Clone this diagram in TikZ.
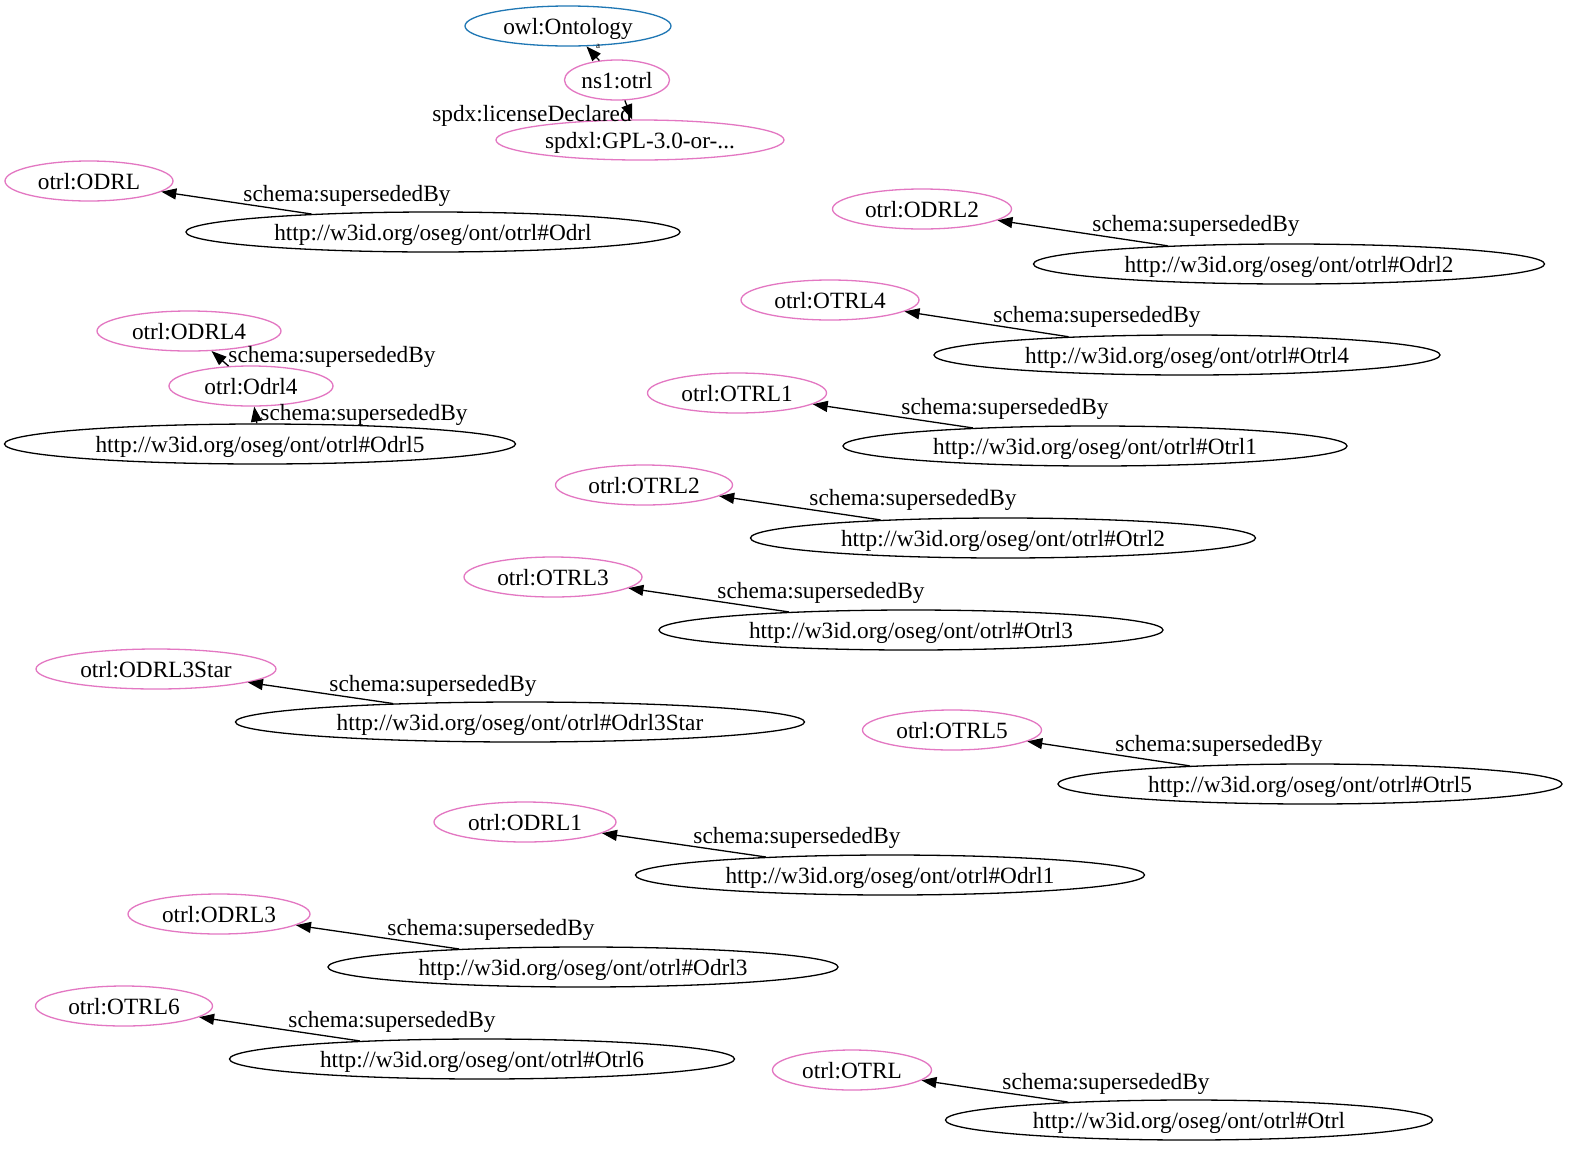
\documentclass[tikz,border=0pt]{standalone}
\usepackage{fontspec}
\setmainfont{Liberation Serif}
\usetikzlibrary{shapes.geometric,arrows.meta}
\definecolor{owlblue}{RGB}{31,119,180}
\definecolor{tpink}{RGB}{227,119,194}
\begin{document}
\begin{tikzpicture}[x=1pt,y=-1pt,
  every node/.style={font=\fontsize{23.3}{26}\selectfont,text height=17pt,text depth=0pt},
  ell/.style={ellipse,draw,line width=1.3pt,inner sep=0pt,minimum height=40pt},
  cls/.style={ell,draw=owlblue},
  res/.style={ell,draw=tpink},
  uri/.style={ell,draw=black},
  rel/.style={line width=1.3pt,-{Triangle[length=15pt,width=11pt]}},
  lab/.style={inner sep=0pt}]
\useasboundingbox (0,0) rectangle (1569,1149);
\fill[white] (0,0) rectangle (1569,1149);
% top group
\node[cls,minimum width=206pt] (onto) at (568,26) {owl:Ontology};
\node[res,minimum width=105pt] (ns1) at (617,80) {ns1:otrl};
\node[res,minimum width=288pt] (gpl) at (640,140) {spdxl:GPL-3.0-or-...};
\draw[rel] (ns1) -- (onto);
\node[lab,font=\fontsize{9}{10}\selectfont,text height=5pt] (la) at (598,46) {a};
\draw[rel] (ns1) -- (gpl);
\node[lab] (lspdx) at (532,113) {spdx:licenseDeclared};
% pairs
\node[res,minimum width=168pt] (p1) at (89,181) {otrl:ODRL};
\node[uri,minimum width=494pt] (u1) at (433,232) {http://w3id.org/oseg/ont/otrl\#Odrl};
\draw[rel] (u1) -- (p1);
\node[lab] (l1) at (347,193) {schema:supersededBy};

\node[res,minimum width=179pt] (p2) at (922,209) {otrl:ODRL2};
\node[uri,minimum width=511pt] (u2) at (1289,264) {http://w3id.org/oseg/ont/otrl\#Odrl2};
\draw[rel] (u2) -- (p2);
\node[lab] (l2) at (1196,223) {schema:supersededBy};

\node[res,minimum width=178pt] (p3) at (830,300) {otrl:OTRL4};
\node[uri,minimum width=506pt] (u3) at (1187,355) {http://w3id.org/oseg/ont/otrl\#Otrl4};
\draw[rel] (u3) -- (p3);
\node[lab] (l3) at (1097,314) {schema:supersededBy};

\node[res,minimum width=184pt] (p4) at (189,331) {otrl:ODRL4};
\node[res,minimum width=164pt] (p4b) at (251,386) {otrl:Odrl4};
\node[uri,minimum width=511pt] (u4) at (260,444) {http://w3id.org/oseg/ont/otrl\#Odrl5};
\draw[rel] (p4b) -- (p4);
\node[lab] (l4a) at (332,354) {schema:supersededBy};
\draw[rel] (u4) -- (p4b);
\node[lab] (l4b) at (364,412) {schema:supersededBy};

\node[res,minimum width=179pt] (p5) at (737,393) {otrl:OTRL1};
\node[uri,minimum width=504pt] (u5) at (1095,446) {http://w3id.org/oseg/ont/otrl\#Otrl1};
\draw[rel] (u5) -- (p5);
\node[lab] (l5) at (1005,406) {schema:supersededBy};

\node[res,minimum width=177pt] (p6) at (644,485) {otrl:OTRL2};
\node[uri,minimum width=505pt] (u6) at (1003,538) {http://w3id.org/oseg/ont/otrl\#Otrl2};
\draw[rel] (u6) -- (p6);
\node[lab] (l6) at (913,497) {schema:supersededBy};

\node[res,minimum width=178pt] (p7) at (553,577) {otrl:OTRL3};
\node[uri,minimum width=504pt] (u7) at (911,630) {http://w3id.org/oseg/ont/otrl\#Otrl3};
\draw[rel] (u7) -- (p7);
\node[lab] (l7) at (821,590) {schema:supersededBy};

\node[res,minimum width=240pt] (p8) at (156,669) {otrl:ODRL3Star};
\node[uri,minimum width=569pt] (u8) at (520,722) {http://w3id.org/oseg/ont/otrl\#Odrl3Star};
\draw[rel] (u8) -- (p8);
\node[lab] (l8) at (433,683) {schema:supersededBy};

\node[res,minimum width=179pt] (p9) at (952,730) {otrl:OTRL5};
\node[uri,minimum width=504pt] (u9) at (1310,784) {http://w3id.org/oseg/ont/otrl\#Otrl5};
\draw[rel] (u9) -- (p9);
\node[lab] (l9) at (1219,743) {schema:supersededBy};

\node[res,minimum width=182pt] (p10) at (525,822) {otrl:ODRL1};
\node[uri,minimum width=509pt] (u10) at (890,875) {http://w3id.org/oseg/ont/otrl\#Odrl1};
\draw[rel] (u10) -- (p10);
\node[lab] (l10) at (797,835) {schema:supersededBy};

\node[res,minimum width=182pt] (p11) at (219,914) {otrl:ODRL3};
\node[uri,minimum width=510pt] (u11) at (583,967) {http://w3id.org/oseg/ont/otrl\#Odrl3};
\draw[rel] (u11) -- (p11);
\node[lab] (l11) at (491,927) {schema:supersededBy};

\node[res,minimum width=177pt] (p12) at (124,1006) {otrl:OTRL6};
\node[uri,minimum width=505pt] (u12) at (482,1059) {http://w3id.org/oseg/ont/otrl\#Otrl6};
\draw[rel] (u12) -- (p12);
\node[lab] (l12) at (392,1019) {schema:supersededBy};

\node[res,minimum width=159pt] (p13) at (852,1070) {otrl:OTRL};
\node[uri,minimum width=487pt] (u13) at (1189,1120) {http://w3id.org/oseg/ont/otrl\#Otrl};
\draw[rel] (u13) -- (p13);
\node[lab] (l13) at (1106,1081) {schema:supersededBy};
\end{tikzpicture}
\end{document}
